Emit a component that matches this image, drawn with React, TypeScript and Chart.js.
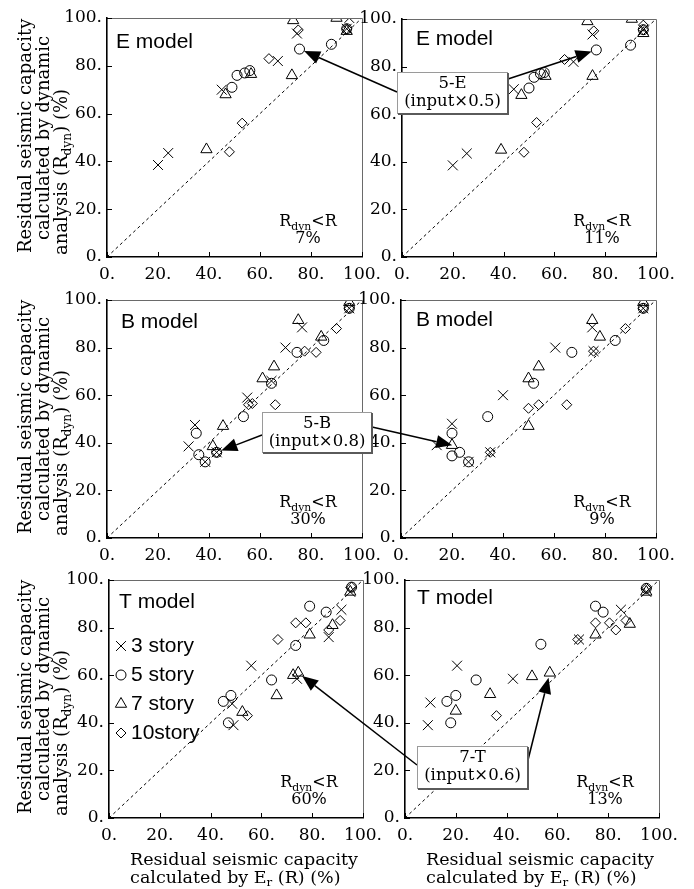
import React, { useEffect, useRef } from 'react';
import { Chart, registerables } from 'chart.js';
import { drawPoint } from 'chart.js/helpers';

Chart.register(...registerables);

type Pt = [number, number];

// ---------- data (x = R by Er, y = R_dyn) ----------
const storyLabels = ['3 story', '5 story', '7 story', '10story'];
const tickLabels = ['0.', '20.', '40.', '60.', '80.', '100.'];

// E model (left)
const eLeft3: Pt[] = [[20, 38.5], [24, 43.5], [45, 70], [67, 82], [74.5, 93.5], [95, 100], [94, 95.5]];
const eLeft5: Pt[] = [[49, 71], [51, 76], [54, 77], [56, 78], [75.5, 87], [88, 89], [94, 95.5]];
const eLeft7: Pt[] = [[39, 45], [46.5, 68], [56.5, 76.5], [72.5, 76], [73, 99], [90, 100], [94, 94.5]];
const eLeft10: Pt[] = [[48, 44], [53, 56], [63.5, 83], [75, 95], [94, 95.5]];
// E model (right)
const eRight3: Pt[] = [[20, 38.5], [25.5, 43.5], [44, 70.5], [67.5, 82], [75, 93.5], [95, 99.5], [95, 95.5]];
const eRight5: Pt[] = [[50, 71], [52, 75.5], [54.5, 77], [56, 77.5], [76.5, 87], [90, 89], [95, 95.5]];
const eRight7: Pt[] = [[39, 45], [47, 68], [56.5, 76], [75, 76], [73, 99], [90.5, 100], [95, 94]];
const eRight10: Pt[] = [[48, 44], [53, 56.5], [64, 83], [75.5, 95], [95, 95.5]];
// B model (left)
const bLeft3: Pt[] = [[32, 38.5], [34.5, 47.5], [38.5, 32], [43, 36], [55, 59], [64.5, 66], [70, 80], [76.5, 88.5], [95, 96.5]];
const bLeft5: Pt[] = [[35, 44], [36, 35], [38.5, 32], [43, 36], [53.5, 51], [64.5, 65], [74.5, 78], [85, 83], [95, 96.5]];
const bLeft7: Pt[] = [[41.5, 38.5], [45.5, 47], [61, 67], [65.5, 72], [75, 91.5], [84, 84.5], [95, 99]];
const bLeft10: Pt[] = [[43, 36], [55.5, 56], [57, 56.5], [66, 56], [77.5, 78.5], [82, 78], [90, 88], [95, 96.5]];
// B model (right)
const bRight3: Pt[] = [[14, 39], [20, 48], [26.5, 32], [35, 36], [40, 60], [60.5, 80], [75, 88.5], [75.5, 78.5], [95, 96.5]];
const bRight5: Pt[] = [[20, 44], [20, 34.5], [23, 36], [26.5, 32], [34, 51], [52, 65], [67, 78], [84, 83], [95, 96.5]];
const bRight7: Pt[] = [[20, 39], [50, 67], [54, 72], [50, 47], [75, 91.5], [78, 84.5], [95, 99]];
const bRight10: Pt[] = [[35, 36], [50, 54.5], [54, 56], [65, 56], [75.5, 78.5], [88, 88], [95, 96.5]];
// T model (left)
const tLeft3: Pt[] = [[56, 64], [48.5, 48], [49, 39], [74, 58.5], [86.5, 76], [91.5, 87.5], [95, 95]];
const tLeft5: Pt[] = [[45, 49], [48, 51.5], [47, 40], [64, 58], [73.5, 72.5], [79, 89], [85.5, 86.5], [95.5, 97]];
const tLeft7: Pt[] = [[52.5, 44.5], [66, 51.5], [72.5, 60], [74.5, 61], [79, 77], [88, 81], [95, 95]];
const tLeft10: Pt[] = [[54.5, 43], [66.5, 75], [73.5, 82], [77.5, 82], [86.5, 79], [91, 83], [95.5, 97]];
// T model (right)
const tRight3: Pt[] = [[9, 39], [10, 48.5], [20.5, 64], [42.5, 58.5], [68.5, 75], [85, 87.5], [95, 95]];
const tRight5: Pt[] = [[16.5, 49], [18, 40], [20, 51.5], [28, 58], [53.5, 73], [75, 89], [78, 86.5], [95, 96.5]];
const tRight7: Pt[] = [[20, 45], [33.5, 52], [50, 59.5], [57, 61], [75, 77], [88.5, 81.5], [95, 95]];
const tRight10: Pt[] = [[36, 43], [68, 75], [75, 82], [80.5, 82], [83, 79], [87, 83], [95, 96.5]];

const diagonal: Pt[] = [[0, 0], [100, 100]];

// annotation targets (data coords in the given panel)
const target5E: Pt[] = [[75.5, 87], [76.5, 87]];
const target5B: Pt[] = [[43, 36], [22, 38.5]];
const target7T: Pt[] = [[74.5, 61], [57, 61]];

// ---------- layout / style ----------
const SERIF = '"DejaVu Serif", serif';
const SANS = '"Liberation Sans", Arial, sans-serif';
const pointStyles = ['crossRot', 'circle', 'triangle', 'rectRot'];
const pointRadii = [7, 5, 6.5, 5];

const PANELS = [
  { model: 'E model', share: '7%', s: [eLeft3, eLeft5, eLeft7, eLeft10], L: 107, T: 18, R: 362, B: 257, col: 0, row: 0, lx: 9, ly: 24 },
  { model: 'E model', share: '11%', s: [eRight3, eRight5, eRight7, eRight10], L: 402, T: 19, R: 656, B: 257, col: 1, row: 0, lx: 14, ly: 20 },
  { model: 'B model', share: '30%', s: [bLeft3, bLeft5, bLeft7, bLeft10], L: 107, T: 300, R: 362, B: 538, col: 0, row: 1, lx: 14, ly: 22 },
  { model: 'B model', share: '9%', s: [bRight3, bRight5, bRight7, bRight10], L: 401, T: 300, R: 656, B: 538, col: 1, row: 1, lx: 15, ly: 20 },
  { model: 'T model', share: '60%', s: [tLeft3, tLeft5, tLeft7, tLeft10], L: 109, T: 580, R: 363, B: 818, col: 0, row: 2, lx: 10, ly: 22, legend: true },
  { model: 'T model', share: '13%', s: [tRight3, tRight5, tRight7, tRight10], L: 405, T: 580, R: 659, B: 818, col: 1, row: 2, lx: 12, ly: 18 },
];

const ANNOTS = [
  { lines: ['5-E', '(input×0.5)'], box: [397, 72, 111, 42], targets: target5E, panels: [0, 1], from: [[397, 92], [508, 79]] },
  { lines: ['5-B', '(input×0.8)'], box: [262, 412, 110, 41], targets: target5B, panels: [2, 3], from: [[262, 435], [372, 427]] },
  { lines: ['7-T', '(input×0.6)'], box: [417, 746, 111, 43], targets: target7T, panels: [4, 5], from: [[417, 765], [528, 760]] },
];

type Part = [string, boolean];

function richText(ctx: CanvasRenderingContext2D, parts: Part[], x: number, y: number, size: number, align: 'left' | 'center') {
  const subSize = size * 0.68;
  const widths = parts.map(([t, sub]) => {
    ctx.font = `${sub ? subSize : size}px ${SERIF}`;
    return ctx.measureText(t).width;
  });
  const total = widths.reduce((a, b) => a + b, 0);
  let cx = align === 'center' ? x - total / 2 : x;
  ctx.textAlign = 'left';
  ctx.textBaseline = 'middle';
  parts.forEach(([t, sub], i) => {
    ctx.font = `${sub ? subSize : size}px ${SERIF}`;
    ctx.fillText(t, cx, sub ? y + size * 0.3 : y);
    cx += widths[i];
  });
  return total;
}

function geom(p: any) {
  const yW = p.col === 0 ? p.L : 55;
  const left = p.L - yW;
  const top = p.T - 15;
  const padB = p.row === 2 ? 889 - p.B - 35 : 0;
  const w = yW + (p.R - p.L) + 25;
  const h = 15 + (p.B - p.T) + 35 + padB;
  return { yW, left, top, padB, w, h };
}

function makeDecor(p: any) {
  return {
    id: 'decor',
    afterDraw(chart: any) {
      const { ctx, chartArea: a, scales } = chart;
      const xs = scales.x, ys = scales.y;
      ctx.save();
      // top / right frame
      ctx.strokeStyle = '#6a6a6a';
      ctx.lineWidth = 1;
      ctx.beginPath();
      ctx.moveTo(a.left, a.top + 0.5);
      ctx.lineTo(a.right + 0.5, a.top + 0.5);
      ctx.lineTo(a.right + 0.5, a.bottom);
      ctx.stroke();
      // inward ticks
      ctx.strokeStyle = '#000';
      ctx.beginPath();
      xs.ticks.forEach((t: any) => {
        const px = Math.round(xs.getPixelForValue(t.value)) + 0.5;
        ctx.moveTo(px, a.bottom);
        ctx.lineTo(px, a.bottom - 5);
      });
      ys.ticks.forEach((t: any) => {
        const py = Math.round(ys.getPixelForValue(t.value)) + 0.5;
        ctx.moveTo(a.left, py);
        ctx.lineTo(a.left + 5, py);
      });
      ctx.stroke();
      ctx.fillStyle = '#000';
      // model label
      ctx.font = `21px ${SANS}`;
      ctx.textAlign = 'left';
      ctx.textBaseline = 'middle';
      ctx.fillText(p.model, a.left + p.lx, a.top + p.ly);
      // Rdyn<R share
      const cx = a.right - 54;
      richText(ctx, [['R', false], ['dyn', true], ['<R', false]], cx, a.bottom - 35, 16, 'center');
      ctx.font = `16px ${SERIF}`;
      ctx.textAlign = 'center';
      ctx.fillText(p.share, cx, a.bottom - 18);
      // legend
      if (p.legend) {
        storyLabels.forEach((lab, i) => {
          const y = a.top + 66 + 29 * i;
          ctx.strokeStyle = '#000';
          ctx.fillStyle = 'rgba(0,0,0,0)';
          ctx.lineWidth = 1;
          drawPoint(ctx, { pointStyle: pointStyles[i], radius: pointRadii[i], rotation: 0, borderWidth: 1 } as any, a.left + 12, y);
          ctx.fillStyle = '#000';
          ctx.font = `21px ${SANS}`;
          ctx.textAlign = 'left';
          ctx.textBaseline = 'middle';
          ctx.fillText(lab, a.left + 22, y);
        });
      }
      // y title (left column)
      if (p.col === 0) {
        const lines: { parts: Part[]; x: number; dy: number }[] = [
          { parts: [['Residual seismic capacity', false]], x: 26, dy: 4 },
          { parts: [['calculated by dynamic', false]], x: 44, dy: 17 },
          { parts: [['analysis (R', false], ['dyn', true], [') (%)', false]], x: 62, dy: 2 },
        ];
        lines.forEach((ln) => {
          ctx.save();
          ctx.translate(ln.x, a.bottom - ln.dy);
          ctx.rotate(-Math.PI / 2);
          ctx.fillStyle = '#000';
          richText(ctx, ln.parts, 0, 0, 18, 'left');
          ctx.restore();
        });
      }
      // x title (bottom row)
      if (p.row === 2) {
        ctx.font = `17.5px ${SERIF}`;
        const l1 = 'Residual seismic capacity';
        const w1 = ctx.measureText(l1).width;
        const startX = (a.left + a.right) / 2 + 8 - w1 / 2;
        richText(ctx, [[l1, false]], startX, a.bottom + 42, 17.5, 'left');
        richText(ctx, [['calculated by E', false], ['r', true], [' (R) (%)', false]], startX, a.bottom + 60, 17.5, 'left');
      }
      ctx.restore();
    },
  };
}

function axis(kind: 'x' | 'y', yW: number) {
  return {
    type: 'linear',
    min: 0,
    max: 100,
    ticks: {
      stepSize: 20,
      autoSkip: false,
      maxRotation: 0,
      color: '#000',
      padding: kind === 'x' ? 7 : 5,
      font: { family: SERIF, size: 17 },
      callback: (v: number) => tickLabels[Math.round(v / 20)] ?? '',
    },
    grid: { display: false, drawTicks: false },
    border: { display: true, color: '#000', width: 1.6 },
    afterFit(s: any) {
      if (kind === 'x') {
        s.height = 35;
        s.paddingLeft = 0;
        s.paddingRight = 0;
      } else {
        s.width = yW;
        s.paddingTop = 0;
        s.paddingBottom = 0;
      }
    },
  };
}

function makeConfig(p: any): any {
  const g = geom(p);
  const datasets: any[] = p.s.map((arr: Pt[], i: number) => ({
    label: storyLabels[i],
    data: arr.map(([x, y]) => ({ x, y })),
    pointStyle: pointStyles[i],
    pointRadius: pointRadii[i],
    pointBorderColor: '#000',
    pointBackgroundColor: 'rgba(0,0,0,0)',
    pointBorderWidth: 1,
    showLine: false,
  }));
  datasets.push({
    label: 'R_dyn = R',
    data: diagonal.map(([x, y]) => ({ x, y })),
    showLine: true,
    borderColor: '#000',
    borderWidth: 1,
    borderDash: [3, 3],
    pointRadius: 0,
    fill: false,
  });
  return {
    type: 'scatter',
    data: { datasets },
    options: {
      responsive: false,
      animation: false,
      devicePixelRatio: 1,
      layout: { padding: { left: 0, top: 15, right: 25, bottom: g.padB } },
      plugins: { legend: { display: false }, tooltip: { enabled: false } },
      scales: { x: axis('x', g.yW), y: axis('y', g.yW) },
    },
    plugins: [makeDecor(p)],
  };
}

function drawArrow(ctx: CanvasRenderingContext2D, sx: number, sy: number, px: number, py: number) {
  const ang = Math.atan2(py - sy, px - sx);
  const c = Math.cos(ang), s = Math.sin(ang);
  const tx = px - 5 * c, ty = py - 5 * s;
  const head = 16, hw = 6.5;
  const bx = tx - head * c, by = ty - head * s;
  ctx.strokeStyle = '#000';
  ctx.lineWidth = 1.5;
  ctx.beginPath();
  ctx.moveTo(sx, sy);
  ctx.lineTo(bx, by);
  ctx.stroke();
  ctx.fillStyle = '#000';
  ctx.beginPath();
  ctx.moveTo(tx, ty);
  ctx.lineTo(bx + hw * s, by - hw * c);
  ctx.lineTo(bx - hw * s, by + hw * c);
  ctx.closePath();
  ctx.fill();
}

export default function App() {
  const refs = useRef<(HTMLCanvasElement | null)[]>([]);
  const overlayRef = useRef<HTMLCanvasElement | null>(null);

  useEffect(() => {
    const charts = PANELS.map((p, i) => new Chart(refs.current[i] as HTMLCanvasElement, makeConfig(p)));
    const ov = overlayRef.current;
    if (ov) {
      const ctx = ov.getContext('2d') as CanvasRenderingContext2D;
      ctx.clearRect(0, 0, ov.width, ov.height);
      ANNOTS.forEach((an) => {
        an.panels.forEach((pi, k) => {
          const ch: any = charts[pi];
          const g = geom(PANELS[pi]);
          const [vx, vy] = an.targets[k];
          const px = g.left + ch.scales.x.getPixelForValue(vx);
          const py = g.top + ch.scales.y.getPixelForValue(vy);
          drawArrow(ctx, an.from[k][0], an.from[k][1], px, py);
        });
        const [bx, by, bw, bh] = an.box;
        ctx.fillStyle = '#fff';
        ctx.fillRect(bx, by, bw, bh);
        ctx.strokeStyle = '#9a9a9a';
        ctx.lineWidth = 1;
        ctx.strokeRect(bx + 0.5, by + 0.5, bw - 1, bh - 1);
        ctx.strokeStyle = '#5a5a5a';
        ctx.lineWidth = 2;
        ctx.beginPath();
        ctx.moveTo(bx + bw, by + 1);
        ctx.lineTo(bx + bw, by + bh);
        ctx.lineTo(bx + 1, by + bh);
        ctx.stroke();
        ctx.fillStyle = '#000';
        ctx.font = `16.5px ${SERIF}`;
        ctx.textAlign = 'center';
        ctx.textBaseline = 'middle';
        ctx.fillText(an.lines[0], bx + bw / 2, by + 12);
        ctx.fillText(an.lines[1], bx + bw / 2, by + 30);
      });
    }
    return () => charts.forEach((c) => c.destroy());
  }, []);

  return (
    <div style={{ position: 'absolute', left: 0, top: 0, width: 694, height: 889, background: '#fff', overflow: 'hidden' }}>
      {PANELS.map((p, i) => {
        const g = geom(p);
        return (
          <canvas
            key={i}
            ref={(el) => { refs.current[i] = el; }}
            width={g.w}
            height={g.h}
            style={{ position: 'absolute', left: g.left, top: g.top, width: g.w, height: g.h }}
          />
        );
      })}
      <canvas
        ref={overlayRef}
        width={694}
        height={889}
        style={{ position: 'absolute', left: 0, top: 0, width: 694, height: 889, pointerEvents: 'none' }}
      />
    </div>
  );
}
